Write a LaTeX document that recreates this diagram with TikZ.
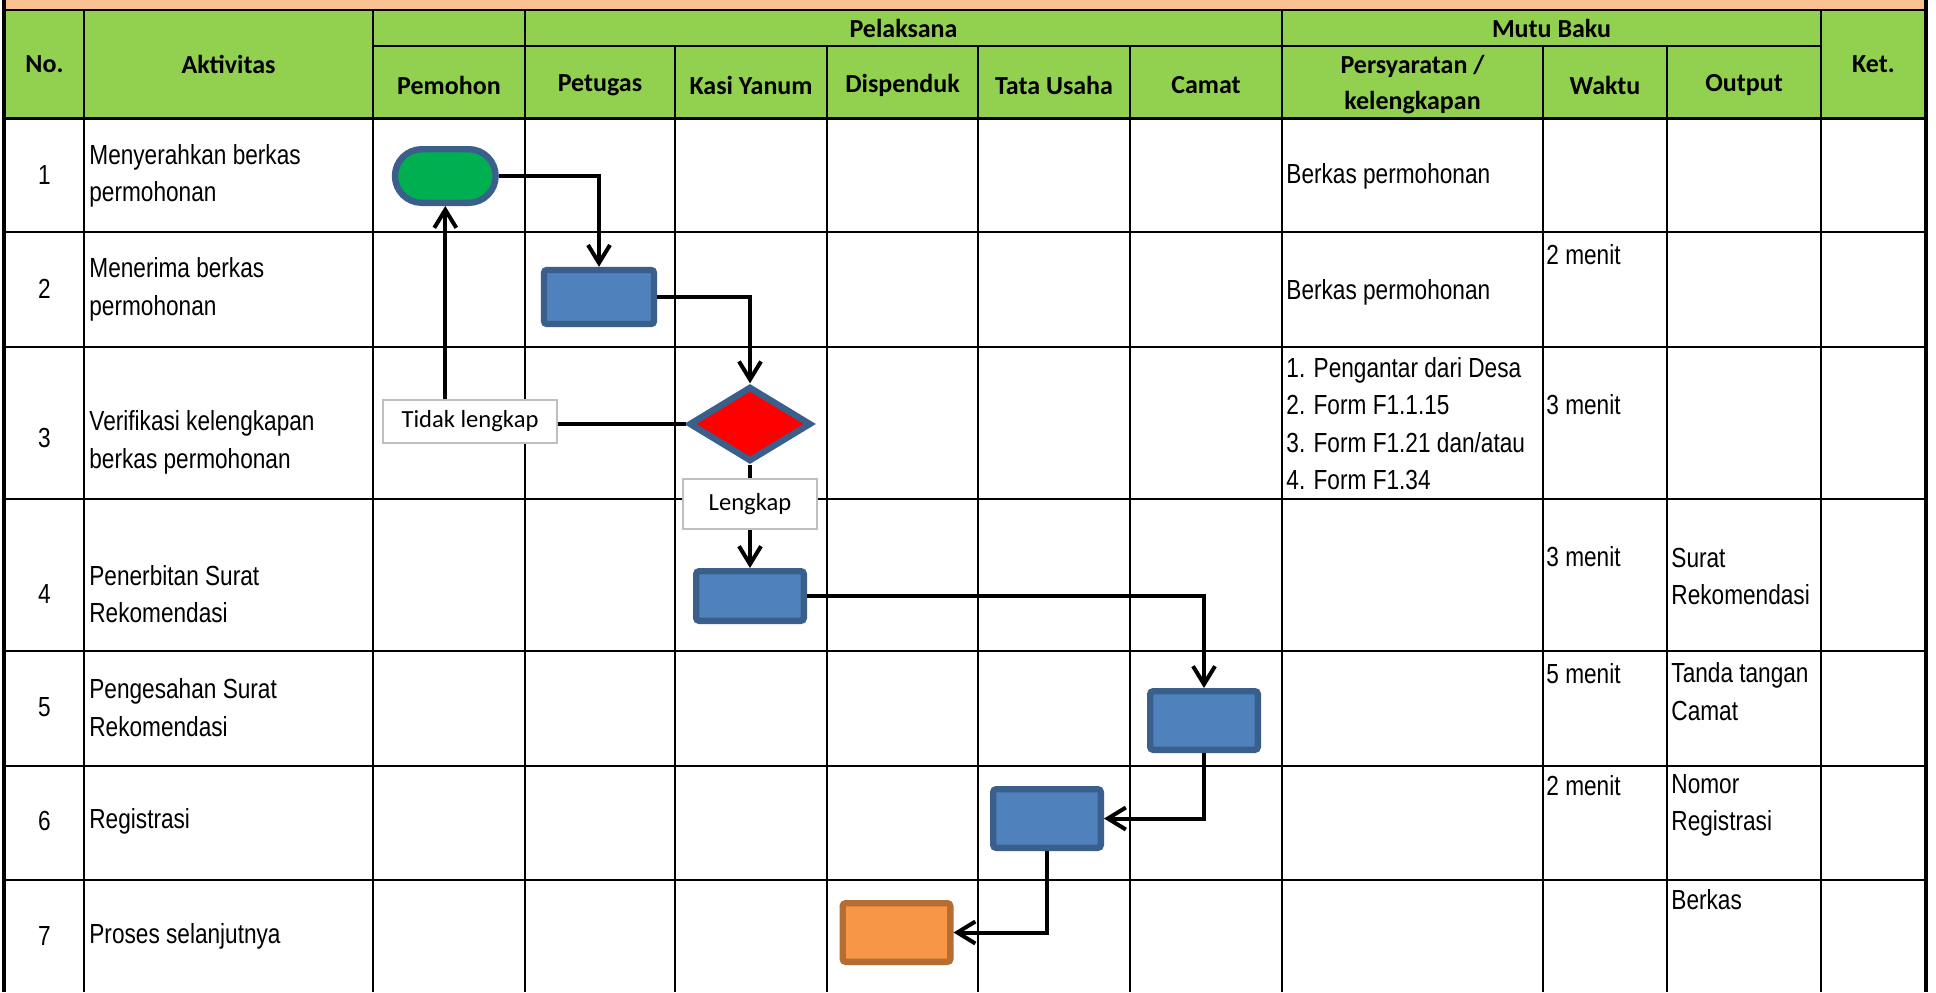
\documentclass[tikz,border=0pt]{standalone}
\usepackage{fontspec}
\setmainfont{Liberation Sans}
\newfontfamily\narrowfont[FakeStretch=0.82]{Liberation Sans}
\newfontfamily\hdrfont{Carlito}
\usetikzlibrary{shapes.geometric,shapes.misc,arrows.meta}
\definecolor{peach}{HTML}{FAC090}
\definecolor{hgreen}{HTML}{92D050}
\definecolor{startgreen}{HTML}{00B050}
\definecolor{shapeblue}{HTML}{3A5F8B}
\definecolor{procblue}{HTML}{4F81BD}
\definecolor{endorange}{HTML}{F79646}
\definecolor{endborder}{HTML}{B66D31}
\definecolor{lblgray}{HTML}{BFBFBF}
\begin{document}
\begin{tikzpicture}[x=0.5pt,y=-0.5pt,
  grid/.style={line width=1.35pt,black},
  hdr/.style={font=\hdrfont\bfseries\fontsize{13pt}{18pt}\selectfont,align=center,inner sep=0pt},
  txt/.style={font=\narrowfont\fontsize{13.8pt}{18.75pt}\selectfont,align=left,anchor=west,inner sep=0pt},
  num/.style={font=\narrowfont\fontsize{13.8pt}{18.75pt}\selectfont,inner sep=0pt},
  proc/.style={rectangle,rounded corners=1.5pt,draw=shapeblue,fill=procblue,line width=3.2pt,minimum width=53.8pt,minimum height=29.3pt,inner sep=0pt},
  pill/.style={rounded rectangle,draw=shapeblue,fill=startgreen,line width=3.2pt,minimum width=50.3pt,minimum height=26.8pt,inner sep=0pt},
  decision/.style={diamond,draw=shapeblue,fill=red,line width=3.2pt,minimum width=61pt,minimum height=37.5pt,inner sep=0pt},
  lbl/.style={rectangle,draw=lblgray,line width=1pt,fill=white,font=\hdrfont\fontsize{12.3pt}{14pt}\selectfont,inner sep=0pt},
  conn/.style={line width=2pt,black},
  arr/.style={conn,-{Straight Barb[length=9pt,width=11pt]}}
]
\useasboundingbox (0,0) rectangle (1936,992);
\fill[white] (0,0) rectangle (1936,992);
% bands
\fill[peach] (4,0) rectangle (1926,10);
\fill[hgreen] (4,10) rectangle (1926,118.5);
% grid
\foreach \x in {84,373,525,1282,1821} \draw[grid] (\x,10) -- (\x,992);
\foreach \x in {675,827,978,1130,1543,1667} \draw[grid] (\x,46) -- (\x,992);
\draw[line width=1.7pt] (4,0) -- (4,992);
\draw[line width=1.7pt] (1926,0) -- (1926,992);
\draw[grid] (4,10) -- (1926,10);
\draw[grid] (373,46) -- (1821,46);
\draw[line width=1.9pt] (4,118.5) -- (1926,118.5);
\foreach \y in {232,347,499,651,766,880} \draw[grid] (4,\y) -- (1926,\y);
% header texts
\node[hdr] (hno) at (44.5,64) {No.};
\node[hdr] (hakt) at (228.5,64) {Aktivitas};
\node[hdr] (hpel) at (903.5,28) {Pelaksana};
\node[hdr] (hmutu) at (1551.5,28) {Mutu Baku};
\node[hdr] (hket) at (1873.5,64) {Ket.};
\node[hdr] (hpem) at (449,85) {Pemohon};
\node[hdr] (hpet) at (600,85) {Petugas};
\node[hdr] (hkasi) at (751,85) {Kasi Yanum};
\node[hdr] (hdis) at (902.5,85) {Dispenduk};
\node[hdr] (htu) at (1054,85) {Tata Usaha};
\node[hdr] (hcam) at (1206,85) {Camat};
\node[hdr] (hper) at (1412.5,84.6) {Persyaratan /\\kelengkapan};
\node[hdr] (hwak) at (1605,85) {Waktu};
\node[hdr] (hout) at (1744,85) {Output};
% numbers
\node[num] (n1) at (44.5,175.3) {1};
\node[num] (n2) at (44.5,289) {2};
\node[num] (n3) at (44.5,438) {3};
\node[num] (n4) at (44.5,594) {4};
\node[num] (n5) at (44.5,707.5) {5};
\node[num] (n6) at (44.5,821) {6};
\node[num] (n7) at (44.5,936) {7};
% activities
\node[txt] (a1) at (89,176) {Menyerahkan berkas\\permohonan};
\node[txt] (a2) at (89,289.5) {Menerima berkas\\permohonan};
\node[txt] (a3) at (89,442.6) {Verifikasi kelengkapan\\berkas permohonan};
\node[txt] (a4) at (89,594) {Penerbitan Surat\\Rekomendasi};
\node[txt] (a5) at (89,707.5) {Pengesahan Surat\\Rekomendasi};
\node[txt] (a6) at (89,821) {Registrasi};
\node[txt] (a7) at (89,936) {Proses selanjutnya};
% persyaratan
\node[txt] (s1) at (1286,176.6) {Berkas permohonan};
\node[txt] (s2) at (1286,292.6) {Berkas permohonan};
\node[txt] (s3) at (1286,423.5) {1. Pengantar dari Desa\\2. Form F1.1.15\\3. Form F1.21 dan/atau\\4. Form F1.34};
% waktu
\node[txt] (w2) at (1546,254.3) {2 menit};
\node[txt] (w3) at (1546,404.5) {3 menit};
\node[txt] (w4) at (1546,557) {3 menit};
\node[txt] (w5) at (1546,673.3) {5 menit};
\node[txt] (w6) at (1546,786) {2 menit};
% output
\node[txt] (out4) at (1671,576.7) {Surat\\Rekomendasi};
\node[txt] (out5) at (1671,691.7) {Tanda tangan\\Camat};
\node[txt] (out6) at (1671,805.5) {Nomor\\Registrasi};
\node[txt] (out7) at (1671,900) {Berkas};
% flow shapes
\node[pill] (p1) at (445.3,176) {};
\node[proc,minimum height=27pt,minimum width=55pt] (r2) at (599,297) {};
\node[decision] (d3) at (750,424) {};
\node[lbl,minimum width=87pt,minimum height=21.5pt] (lt) at (470,421.5) {Tidak lengkap};
\node[lbl,minimum width=67pt,minimum height=25pt] (ll) at (750,504) {Lengkap};
\node[proc,minimum height=24.8pt] (r4) at (750,596) {};
\node[proc] (r5) at (1204,720.5) {};
\node[proc] (r6) at (1047,818.5) {};
\node[proc,draw=endborder,fill=endorange] (o7) at (896.5,932.5) {};
% connectors
\draw[arr] (p1.east) -| (r2.north);
\draw[arr] (r2.east) -| (d3.north);
\draw[conn] (d3.west) -- (d3.west -| lt.east);
\draw[arr] (lt.north -| p1.south) -- (p1.south);
\draw[conn] (d3.south) -- (ll.north);
\draw[arr] (ll.south) -- (r4.north);
\draw[arr] (r4.east) -| (r5.north);
\draw[arr] (r5.south) |- (r6.east);
\draw[arr] (r6.south) |- (o7.east);
\end{tikzpicture}
\end{document}
